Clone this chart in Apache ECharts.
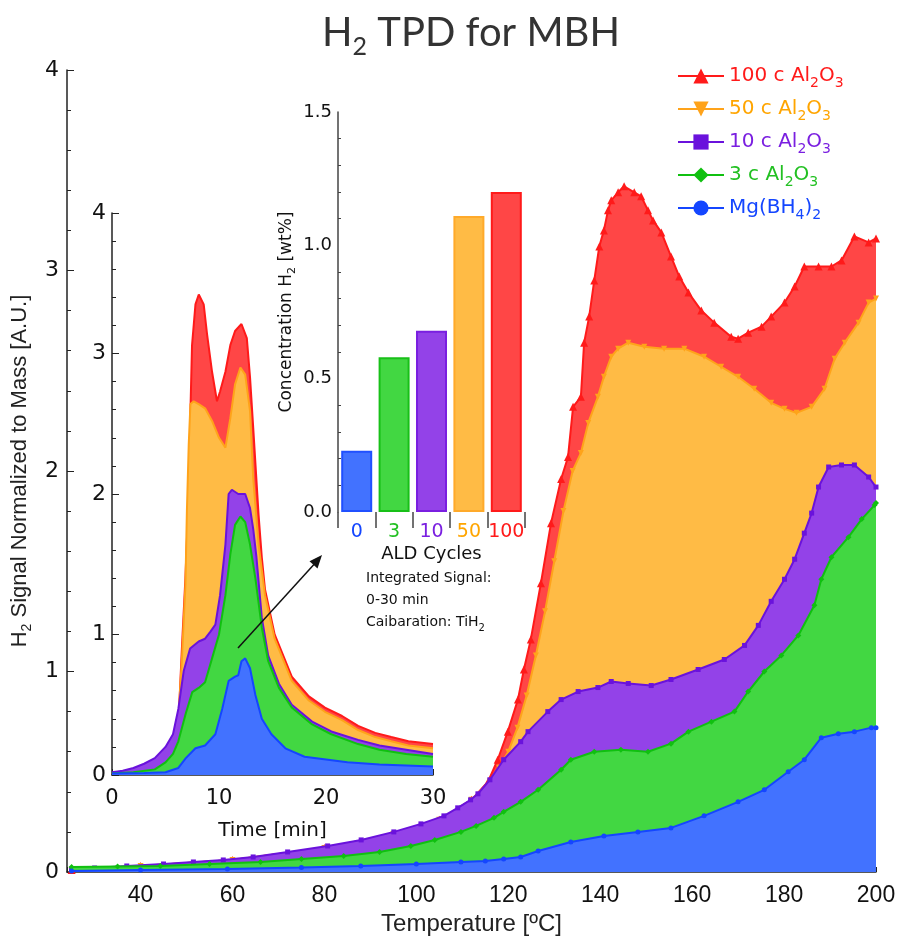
<!DOCTYPE html>
<html><head><meta charset="utf-8">
<script src="https://cdn.jsdelivr.net/npm/echarts@6.0.0/dist/echarts.min.js"></script>
<style>html,body{margin:0;padding:0;background:#fff}#c{width:913px;height:941px}</style>
</head><body><div id="c"></div>
<script>
// ===== Main chart: H2 signal vs temperature =====
const seriesNames = ['100 c Al2O3', '50 c Al2O3', '10 c Al2O3', '3 c Al2O3', 'Mg(BH4)2'];

const tempRed = [25, 40, 60, 80, 95, 105, 112, 115.6, 117.7, 119.9, 122.1, 123.4, 124.9, 127.1, 129.3, 131.5, 133, 134.1, 135.8, 136.5, 137.6, 138.7, 139.8, 140.8, 141.7, 142.4, 143.9, 145.2, 147.4, 148.9, 150.4, 151.5, 153.3, 155.4, 157.2, 159.2, 162, 164.8, 168.5, 170, 172.2, 175.1, 177.2, 180.1, 182.3, 184.4, 187.5, 190.3, 192.5, 195.3, 198.4, 200];
const valRed = [0.01, 0.03, 0.06, 0.12, 0.19, 0.26, 0.36, 0.45, 0.56, 0.70, 0.86, 1.01, 1.16, 1.44, 1.74, 1.96, 2.07, 2.32, 2.37, 2.64, 2.77, 2.95, 3.12, 3.20, 3.30, 3.35, 3.39, 3.42, 3.39, 3.37, 3.30, 3.25, 3.19, 3.07, 2.97, 2.89, 2.80, 2.74, 2.67, 2.66, 2.69, 2.72, 2.77, 2.84, 2.92, 3.02, 3.02, 3.02, 3.05, 3.17, 3.14, 3.16];

const tempOrange = [25, 40, 60, 80, 95, 105, 112, 116, 118, 120, 122, 124, 126, 128, 130, 132, 134, 135.8, 137.4, 139.5, 140.8, 142.4, 143.9, 146.1, 149.6, 153.9, 158.3, 162.6, 166.3, 170, 173.5, 177.2, 180.1, 182.7, 186, 188.8, 191, 193.2, 196.2, 198.4, 200];
const valOrange = [0.01, 0.03, 0.06, 0.12, 0.19, 0.26, 0.36, 0.45, 0.52, 0.60, 0.72, 0.88, 1.08, 1.30, 1.55, 1.80, 2.00, 2.09, 2.24, 2.37, 2.47, 2.57, 2.61, 2.64, 2.62, 2.61, 2.61, 2.57, 2.52, 2.47, 2.41, 2.34, 2.31, 2.29, 2.32, 2.41, 2.56, 2.64, 2.74, 2.84, 2.86];

const tempPurple = [25, 30, 37, 45, 51.5, 58, 64.5, 72, 80.7, 88, 95.1, 101, 106, 109, 111.8, 113.4, 116, 119, 122.7, 124.3, 128.6, 131.5, 135.2, 139.5, 142.4, 146.1, 151.1, 155.4, 161.3, 167, 171.4, 174.4, 177.2, 180.1, 182.3, 184.4, 186, 187.5, 189.7, 192.5, 195.3, 198.4, 200];
const valPurple = [0.015, 0.02, 0.03, 0.04, 0.05, 0.06, 0.075, 0.10, 0.13, 0.16, 0.20, 0.24, 0.28, 0.32, 0.36, 0.39, 0.46, 0.56, 0.65, 0.70, 0.80, 0.86, 0.90, 0.92, 0.95, 0.94, 0.93, 0.96, 1.01, 1.06, 1.13, 1.23, 1.35, 1.46, 1.56, 1.69, 1.79, 1.92, 2.02, 2.03, 2.03, 1.97, 1.92];

const tempGreen = [25, 35, 44.3, 55, 66.1, 75, 84.2, 92, 98.8, 104, 109.7, 113, 116.9, 119, 122.7, 126.5, 131.5, 133.6, 138.7, 144.5, 150.4, 155.4, 159.2, 164.2, 169.2, 172.2, 175.7, 179.4, 183.1, 186.6, 188.1, 190.3, 194, 196.9, 199.7, 200];
const valGreen = [0.025, 0.028, 0.03, 0.04, 0.05, 0.065, 0.08, 0.10, 0.13, 0.16, 0.20, 0.23, 0.27, 0.30, 0.35, 0.41, 0.51, 0.56, 0.60, 0.61, 0.60, 0.64, 0.70, 0.75, 0.80, 0.90, 1.00, 1.08, 1.18, 1.33, 1.46, 1.57, 1.67, 1.76, 1.83, 1.84];

const tempBlue = [25, 40, 58.9, 75, 87.9, 100, 109.7, 115, 119, 122.7, 126.5, 133.6, 140.8, 148.2, 155.4, 162.6, 170, 175.7, 180.9, 184.4, 188.1, 191.8, 195.3, 199, 200];
const valBlue = [0.005, 0.01, 0.015, 0.022, 0.03, 0.04, 0.05, 0.055, 0.065, 0.075, 0.105, 0.15, 0.18, 0.20, 0.22, 0.28, 0.35, 0.41, 0.50, 0.56, 0.67, 0.69, 0.70, 0.72, 0.72];

// ===== Inset: H2 signal vs time =====
const timeRed = [0, 2, 4, 5, 5.7, 6.0, 6.24, 6.55, 6.86, 7.17, 7.33, 7.48, 7.8, 8.11, 8.57, 8.88, 9.35, 9.81, 10.1, 10.6, 11.06, 11.5, 12.1, 12.6, 12.9, 13.2, 13.7, 14.0, 14.3, 15.2, 16.8, 18.4, 19.9, 21.5, 23, 24.6, 26.1, 27.7, 30];
const insetRed = [0.01, 0.03, 0.08, 0.15, 0.25, 0.33, 0.42, 0.93, 1.40, 2.00, 2.59, 3.06, 3.35, 3.42, 3.35, 3.14, 2.87, 2.66, 2.73, 2.87, 3.06, 3.16, 3.21, 3.11, 2.83, 2.47, 1.85, 1.55, 1.32, 1.00, 0.70, 0.56, 0.48, 0.42, 0.35, 0.30, 0.27, 0.24, 0.22];

const timeOrange = [0, 2, 4, 5, 5.7, 6.2, 6.55, 6.86, 7.0, 7.17, 7.33, 7.64, 8.1, 8.7, 9.35, 10.0, 10.6, 11.06, 11.5, 12.0, 12.45, 12.9, 13.2, 13.7, 14.3, 15.2, 16.8, 18.4, 19.9, 21.5, 23.0, 24.6, 26.1, 27.7, 30];
const insetOrange = [0.01, 0.03, 0.08, 0.15, 0.25, 0.40, 0.85, 1.35, 1.88, 2.35, 2.64, 2.66, 2.64, 2.61, 2.52, 2.40, 2.33, 2.54, 2.78, 2.90, 2.85, 2.59, 2.11, 1.64, 1.28, 0.97, 0.67, 0.53, 0.45, 0.39, 0.32, 0.27, 0.24, 0.21, 0.19];

const timePurple = [0, 1, 2, 3, 4, 5, 5.7, 6.2, 6.7, 7.3, 8.1, 8.7, 9.2, 9.66, 10.1, 10.6, 10.9, 11.2, 11.8, 12.45, 12.9, 13.2, 13.5, 14.0, 14.6, 15.6, 16.8, 18.7, 20.5, 23, 25, 27.5, 30];
const insetPurple = [0.02, 0.03, 0.05, 0.08, 0.12, 0.20, 0.29, 0.47, 0.74, 0.90, 0.95, 0.97, 1.02, 1.07, 1.28, 1.64, 2.00, 2.03, 2.00, 2.00, 1.90, 1.75, 1.55, 1.12, 0.85, 0.65, 0.50, 0.38, 0.31, 0.25, 0.21, 0.18, 0.15];

const timeGreen = [0, 2, 4, 5, 5.7, 6.2, 6.9, 7.5, 8.1, 8.7, 9.35, 10.0, 10.6, 11.06, 11.5, 12.0, 12.45, 12.9, 13.4, 14.0, 14.6, 15.6, 16.8, 18.7, 20.5, 23, 25, 27.5, 30];
const insetGreen = [0.01, 0.02, 0.04, 0.09, 0.15, 0.24, 0.44, 0.59, 0.62, 0.66, 0.83, 1.00, 1.28, 1.57, 1.78, 1.84, 1.80, 1.64, 1.40, 1.05, 0.81, 0.62, 0.48, 0.36, 0.29, 0.22, 0.18, 0.15, 0.13];

const timeBlue = [0, 3, 5, 6.2, 6.9, 7.8, 8.7, 9.66, 10.3, 10.9, 11.5, 11.8, 12.1, 12.45, 12.9, 13.4, 14.0, 14.9, 16.2, 18.0, 20, 22, 25, 30];
const insetBlue = [0.01, 0.015, 0.02, 0.05, 0.12, 0.19, 0.21, 0.29, 0.47, 0.67, 0.70, 0.71, 0.81, 0.83, 0.76, 0.57, 0.40, 0.29, 0.19, 0.13, 0.11, 0.09, 0.075, 0.06];

// ===== Inset: bar chart =====
const barCategories = ['0', '3', '10', '50', '100'];
const barValues = [0.23, 0.58, 0.68, 1.11, 1.20];

// ===== Tick labels =====
const mainXLabels = [40, 60, 80, 100, 120, 140, 160, 180, 200];

// ===== Styles =====
const lineColors = ['#ff1a1a', '#ffa31a', '#6a12dc', '#10c010', '#1446ff'];
const fillColors = ['#ff4646', '#ffbb45', '#9342e8', '#42d742', '#4272ff'];
const textColors = ['#ff1a1a', '#ffa500', '#7a1fe0', '#22c022', '#1446ff'];
const barLabelColors = ['#1446ff', '#22c022', '#7a1fe0', '#ffa500', '#ff1a1a'];
const barFill = ['#4272ff', '#42d742', '#9342e8', '#ffbb45', '#ff4646'];
const barBorder = ['#2050ff', '#18c018', '#7a1fe0', '#ffaa2a', '#ff1a1a'];
const symbols = ['triangle', 'path://M0,0L10,0L5,9Z', 'rect', 'diamond', 'circle'];
const symbolSizes = [8, 6, 5, 6, 5];

const zip = (a, b) => a.map((x, i) => [x, b[i]]);
const mainT = [tempRed, tempOrange, tempPurple, tempGreen, tempBlue];
const mainV = [valRed, valOrange, valPurple, valGreen, valBlue];
const insT = [timeRed, timeOrange, timePurple, timeGreen, timeBlue];
const insV = [insetRed, insetOrange, insetPurple, insetGreen, insetBlue];

const FONT = 'DejaVu Sans';
const NARROW = '"Liberation Sans Narrow", "Liberation Sans", sans-serif';
const AX = '#222';

const series = [];
for (let i = 0; i < 5; i++) {
  series.push({
    type: 'line', name: seriesNames[i], xAxisIndex: 0, yAxisIndex: 0,
    data: zip(mainT[i], mainV[i]),
    symbol: symbols[i], symbolSize: symbolSizes[i], showSymbol: true,
    lineStyle: { color: lineColors[i], width: 2 },
    itemStyle: { color: lineColors[i] },
    areaStyle: { color: fillColors[i], opacity: 1 },
    z: 2 + i
  });
}
for (let i = 0; i < 5; i++) {
  series.push({
    type: 'line', name: 'inset ' + seriesNames[i], xAxisIndex: 1, yAxisIndex: 1,
    data: zip(insT[i], insV[i]),
    showSymbol: false,
    lineStyle: { color: lineColors[i], width: 2 },
    areaStyle: { color: fillColors[i], opacity: 1 },
    z: 2 + i
  });
}
series.push({
  type: 'bar', name: 'bars', xAxisIndex: 2, yAxisIndex: 2, barWidth: 31,
  data: barValues.map((v, i) => ({ value: v, itemStyle: { color: barFill[i], borderColor: barBorder[i], borderWidth: 2 } }))
});

const legendRich = {};
for (let i = 0; i < 5; i++) {
  legendRich['n' + i] = { color: textColors[i], fontSize: 20, fontFamily: FONT, lineHeight: 28, verticalAlign: 'middle' };
  legendRich['s' + i] = { color: textColors[i], fontSize: 14, fontFamily: FONT, lineHeight: 28, verticalAlign: 'bottom' };
}

const option = {
  animation: false,
  backgroundColor: '#fff',
  title: {
    text: '{a|H}{b|2}{a| TPD for MBH}', left: 317, top: 2,
    textStyle: { fontWeight: 'normal', rich: {
      a: { fontSize: 40, fontFamily: 'Lato', fontWeight: 'normal', color: '#333', lineHeight: 52, verticalAlign: 'middle' },
      b: { fontSize: 25, fontFamily: 'Lato', fontWeight: 'normal', color: '#333', lineHeight: 52, verticalAlign: 'bottom' }
    } }
  },
  legend: {
    orient: 'vertical', left: 672, top: 61, itemGap: 9, itemWidth: 46, itemHeight: 19,
    data: seriesNames.map((n, i) => ({ name: n, textStyle: { color: textColors[i] } })),
    formatter: function (name) {
      const i = seriesNames.indexOf(name);
      if (i === 4) return '{n4|Mg(BH}{s4|4}{n4|)}{s4|2}';
      const pre = name.split(' Al')[0];
      return '{n' + i + '|' + pre + ' Al}{s' + i + '|2}{n' + i + '|O}{s' + i + '|3}';
    },
    textStyle: { rich: legendRich }
  },
  grid: [
    { left: 67, top: 70, width: 809, height: 803 },
    { left: 112, top: 213, width: 321, height: 562 },
    { left: 338, top: 112, width: 187, height: 400 }
  ],
  xAxis: [
    { gridIndex: 0, type: 'value', min: 24, max: 200, interval: 4,
      name: 'Temperature [ºC]', nameLocation: 'middle', nameGap: 40,
      nameTextStyle: { fontSize: 24, fontFamily: NARROW, color: '#222' },
      axisLine: { show: true, onZero: false, lineStyle: { color: AX, width: 1.5 } },
      axisTick: { inside: true, length: 5, lineStyle: { color: AX } },
      axisLabel: { fontSize: 23, fontFamily: NARROW, color: '#111', margin: 12,
        formatter: v => (mainXLabels.indexOf(v) >= 0 ? String(v) : '') },
      splitLine: { show: false } },
    { gridIndex: 1, type: 'value', min: 0, max: 30, interval: 5,
      name: 'Time [min]', nameLocation: 'middle', nameGap: 46,
      nameTextStyle: { fontSize: 20, fontFamily: FONT, color: '#111' },
      axisLine: { show: true, onZero: false, lineStyle: { color: AX, width: 1.5 } },
      axisTick: { inside: true, length: 6, lineStyle: { color: AX } },
      minorTick: { show: true, splitNumber: 5, length: 3, lineStyle: { color: AX } },
      axisLabel: { fontSize: 21, fontFamily: FONT, color: '#111', margin: 13,
        formatter: v => (v % 10 === 0 ? String(v) : '') },
      splitLine: { show: false } },
    { gridIndex: 2, type: 'category', data: barCategories,
      name: 'ALD Cycles', nameLocation: 'middle', nameGap: 33,
      nameTextStyle: { fontSize: 18, fontFamily: FONT, color: '#111' },
      axisLine: { show: false },
      axisTick: { show: true, inside: false, length: 16, alignWithLabel: false, interval: 0, lineStyle: { color: '#444', width: 1.5 } },
      axisLabel: { interval: 0, fontSize: 19, fontFamily: FONT, margin: 11, color: (v, i) => barLabelColors[i] },
      splitLine: { show: false } }
  ],
  yAxis: [
    { gridIndex: 0, type: 'value', min: 0, max: 4, interval: 1,
      name: '{a|H}{b|2}{a| Signal Normalized to Mass [A.U.]}', nameLocation: 'middle', nameGap: 24,
      nameTextStyle: { rich: {
        a: { fontSize: 22, fontFamily: NARROW, color: '#222', lineHeight: 28, verticalAlign: 'middle' },
        b: { fontSize: 14, fontFamily: NARROW, color: '#222', lineHeight: 28, verticalAlign: 'bottom' } } },
      axisLine: { show: true, onZero: false, lineStyle: { color: AX, width: 1.5 } },
      axisTick: { inside: true, length: 7, lineStyle: { color: AX } },
      minorTick: { show: true, splitNumber: 5, length: 4, lineStyle: { color: AX } },
      axisLabel: { fontSize: 22, fontFamily: FONT, color: '#111', margin: 8 },
      splitLine: { show: false } },
    { gridIndex: 1, type: 'value', min: 0, max: 4, interval: 1,
      axisLine: { show: true, onZero: false, lineStyle: { color: AX, width: 1.5 } },
      axisTick: { inside: true, length: 7, lineStyle: { color: AX } },
      minorTick: { show: true, splitNumber: 5, length: 4, lineStyle: { color: AX } },
      axisLabel: { fontSize: 22, fontFamily: FONT, color: '#111', margin: 6 },
      splitLine: { show: false } },
    { gridIndex: 2, type: 'value', min: 0, max: 1.5, interval: 0.5,
      name: '{a|Concentration H}{b|2}{a| [wt%]}', nameLocation: 'middle', nameGap: 40,
      nameTextStyle: { rich: {
        a: { fontSize: 17, fontFamily: FONT, color: '#111', lineHeight: 22, verticalAlign: 'middle' },
        b: { fontSize: 11, fontFamily: FONT, color: '#111', lineHeight: 22, verticalAlign: 'bottom' } } },
      axisLine: { show: true, onZero: false, lineStyle: { color: '#444', width: 1.5 } },
      axisTick: { inside: true, length: 6, lineStyle: { color: '#444' } },
      minorTick: { show: true, splitNumber: 5, length: 3, lineStyle: { color: '#444' } },
      axisLabel: { fontSize: 18, fontFamily: FONT, color: '#111', margin: 6, formatter: v => v.toFixed(1) },
      splitLine: { show: false } }
  ],
  graphic: [
    { type: 'line', shape: { x1: 238, y1: 648, x2: 318, y2: 560 }, style: { stroke: '#111', lineWidth: 1.5 }, z: 50 },
    { type: 'polygon', shape: { points: [[322, 555], [317.5, 568.5], [309.5, 561.2]] }, style: { fill: '#111' }, z: 50 },
    { type: 'text', left: 366, top: 571, z: 50,
      style: { text: '{a|Integrated Signal:}\n{a|0-30 min}\n{a|Caibaration: TiH}{b|2}',
        rich: { a: { fontSize: 14, fontFamily: FONT, fill: '#111', lineHeight: 22, verticalAlign: 'middle' },
                b: { fontSize: 10, fontFamily: FONT, fill: '#111', lineHeight: 22, verticalAlign: 'bottom' } } } }
  ],
  series: series
};

const chart = echarts.init(document.getElementById('c'), null, { renderer: 'canvas' });
chart.setOption(option);
</script></body></html>
